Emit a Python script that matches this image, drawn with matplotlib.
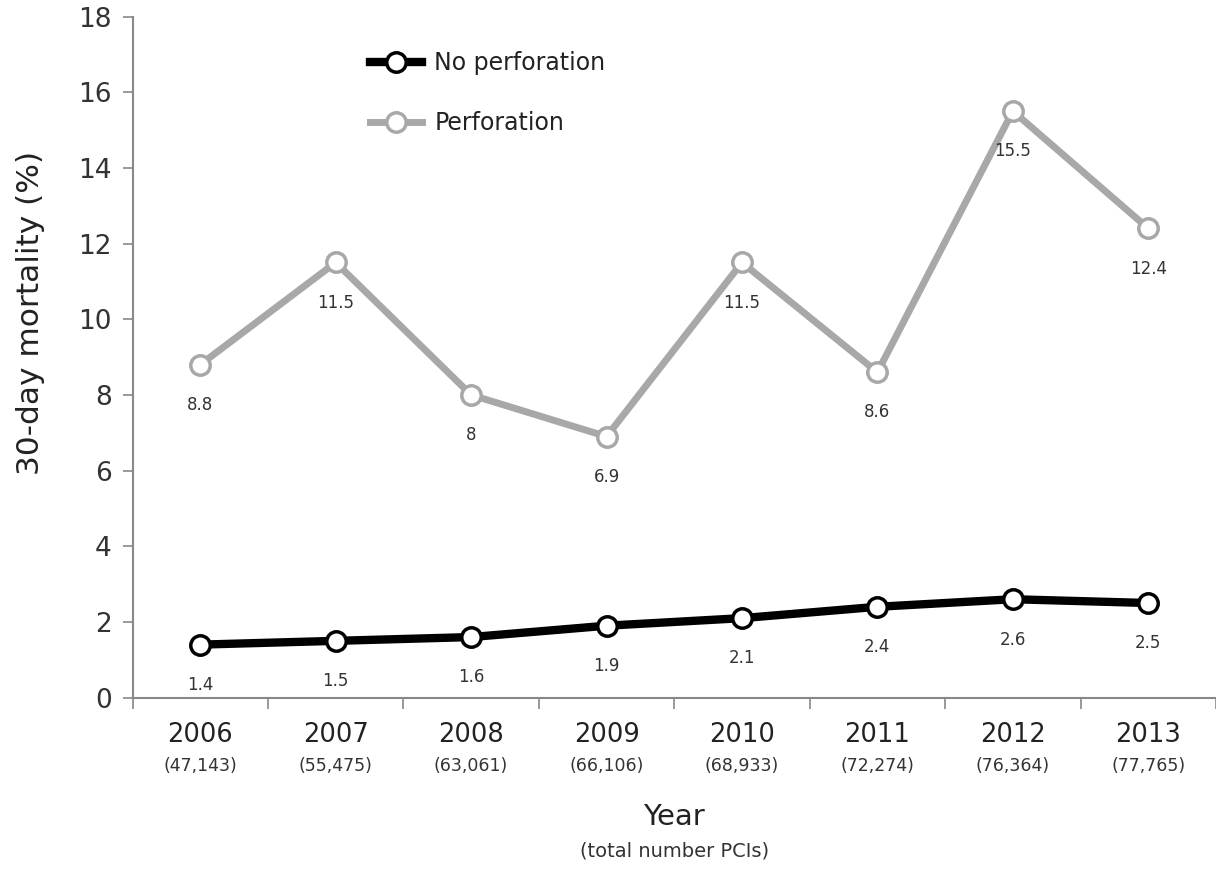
import matplotlib.pyplot as plt
import numpy as np

# Year labels and total PCIs per year
years = ['2006', '2007', '2008', '2009', '2010', '2011', '2012', '2013']
n_pci = ['(47,143)', '(55,475)', '(63,061)', '(66,106)',
         '(68,933)', '(72,274)', '(76,364)', '(77,765)']

# 30-day mortality (%)
no_perf = [1.4, 1.5, 1.6, 1.9, 2.1, 2.4, 2.6, 2.5]
perf = [8.8, 11.5, 8, 6.9, 11.5, 8.6, 15.5, 12.4]

plt.rcParams['font.family'] = ['DejaVu Sans']

fig = plt.figure(figsize=(12.16, 8.72), dpi=100)
ax = fig.add_axes([0.109, 0.2, 0.891, 0.781])

x = np.arange(len(years))
grey = '#a8a8a8'
ax.plot(x, perf, '-o', color=grey, lw=5, ms=14, mfc='white', mec=grey, mew=2.5,
        label='Perforation', zorder=3)
ax.plot(x, no_perf, '-o', color='black', lw=6, ms=14, mfc='white', mec='black', mew=2.5,
        label='No perforation', zorder=4)

for xi, v in zip(x, perf):
    ax.annotate(f'{v:g}', (xi, v), xytext=(0, -29), textcoords='offset points',
                ha='center', va='center', fontsize=12, color='#333333')
for xi, v in zip(x, no_perf):
    ax.annotate(f'{v:g}', (xi, v), xytext=(0, -29), textcoords='offset points',
                ha='center', va='center', fontsize=12, color='#333333')

ax.set_xlim(-0.5, 7.5)
ax.set_ylim(0, 18)
ax.set_yticks(np.arange(0, 19, 2))
ax.tick_params(axis='y', labelsize=19, colors='#333333', length=7, width=1.2,
               color='#888888', pad=8)

# category ticks at boundaries, labels drawn as text at centres
ax.set_xticks(np.arange(-0.5, 8, 1))
ax.set_xticklabels([])
ax.tick_params(axis='x', length=8, width=1.2, color='#888888')
for xi, yr, s in zip(x, years, n_pci):
    ax.text(xi, -0.055, yr, transform=ax.get_xaxis_transform(), ha='center', va='center',
            fontsize=18.5, color='#222222')
    ax.text(xi, -0.101, s, transform=ax.get_xaxis_transform(), ha='center', va='center',
            fontsize=12.5, color='#333333')

ax.text(0.5, -0.175, 'Year', transform=ax.transAxes, ha='center', va='center',
        fontsize=21, color='#222222')
ax.text(0.5, -0.225, '(total number PCIs)', transform=ax.transAxes, ha='center',
        va='center', fontsize=14, color='#333333')
ax.set_ylabel('30-day mortality (%)', fontsize=22.5, color='#222222', va='center')
ax.yaxis.set_label_coords(-0.094, 0.565)

for s in ['top', 'right']:
    ax.spines[s].set_visible(False)
for s in ['left', 'bottom']:
    ax.spines[s].set_color('#888888')
    ax.spines[s].set_linewidth(1.5)

h, l = ax.get_legend_handles_labels()
ax.legend(h[::-1], l[::-1], loc='upper left', bbox_to_anchor=(0.2, 0.98), frameon=False,
          fontsize=17, handlelength=2.2, labelspacing=1.5, handletextpad=0.5,
          labelcolor='#222222')

fig.savefig('out.png', dpi=100)
